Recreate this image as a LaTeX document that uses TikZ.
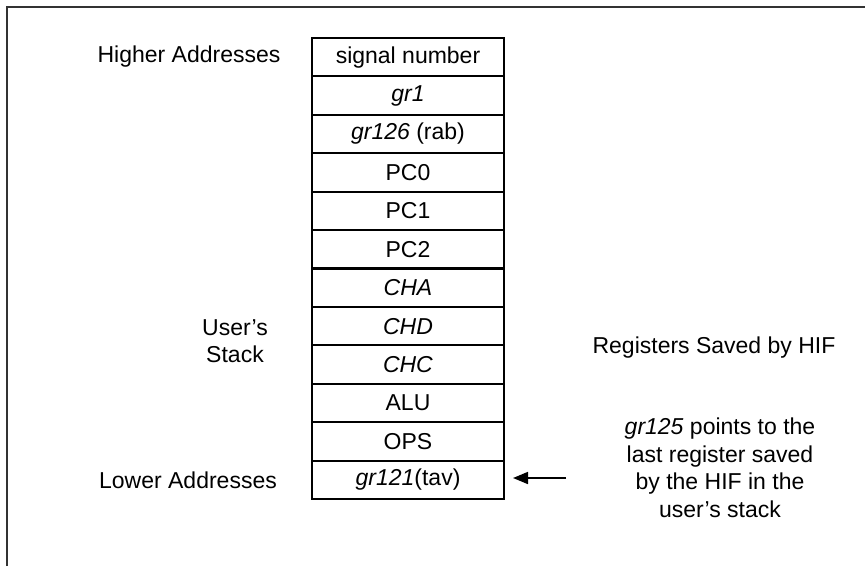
\documentclass[tikz,border=0pt]{standalone}
\usepackage{fontspec}
\setmainfont{Liberation Sans}
\usetikzlibrary{arrows.meta}
\begin{document}
\begin{tikzpicture}[x=1pt,y=-1pt,
  every node/.style={font=\fontsize{23}{27.5}\selectfont, inner sep=0pt},
  cell/.style={draw, line width=2pt, minimum width=192pt, minimum height=38.42pt, anchor=center},
  lbl/.style={align=center, anchor=center},
  arr/.style={line width=1.6pt, -{Triangle[length=15pt,width=12pt]}}]
\useasboundingbox (0,0) rectangle (865,566);
\draw[line width=1.5pt, black!80] (7,566) -- (7,7) -- (865,7);
\node[cell] (r1) at (408,57.2) {signal number};
\node[cell] (r2) at (408,95.6) {\textit{gr1}};
\node[cell] (r3) at (408,134.0) {\textit{gr126} (rab)};
\node[cell] (r4) at (408,172.5) {PC0};
\node[cell] (r5) at (408,210.9) {PC1};
\node[cell] (r6) at (408,249.3) {PC2};
\node[cell] (r7) at (408,287.7) {\textit{CHA}};
\node[cell] (r8) at (408,326.1) {\textit{CHD}};
\node[cell] (r9) at (408,364.6) {\textit{CHC}};
\node[cell] (r10) at (408,403.0) {ALU};
\node[cell] (r11) at (408,441.4) {OPS};
\node[cell] (r12) at (408,479.8) {\textit{gr121}(tav)};
\node[lbl] (hi) at (189,57) {Higher Addresses};
\node[lbl] (lo) at (188,480) {Lower Addresses};
\node[lbl] (us) at (235,341) {User’s\\Stack};
\node[lbl] (reg) at (714,348) {Registers Saved by HIF};
\node[lbl] (note) at (720,468) {\textit{gr125} points to the\\last register saved\\by the HIF in the\\user’s stack};
\coordinate (tail) at (566,478);
\draw[arr] (tail) -- ([xshift=8pt]r12.east |- tail);
\end{tikzpicture}
\end{document}
